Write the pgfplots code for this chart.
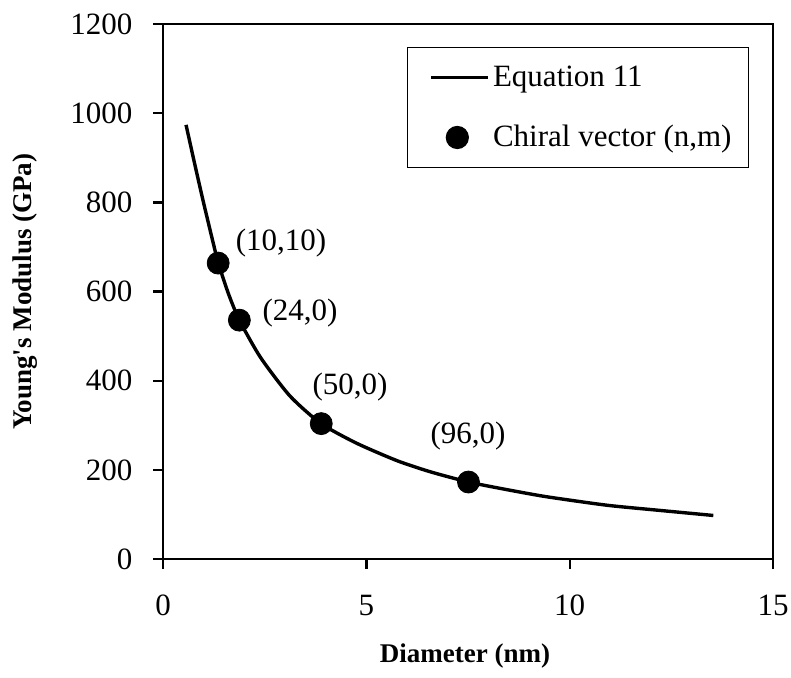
\documentclass[border=0pt]{standalone}
\usepackage{pgfplots}
\pgfplotsset{compat=1.18}
\usepackage{fontspec}
\setmainfont{Liberation Serif}

% Young's modulus of nanotubes against tube diameter
\pgfplotstableread{
d      E
0.566  974
0.78   886
0.99   802
1.237  708
1.36   664
1.606  596
1.877  536
2.40   452
3.12   366
3.885  304
4.76   260
5.75   221
6.57   196
7.51   173
8.45   156
9.43   140
10.91  121
12.14  110
13.53  98
}\equationdata

\pgfplotstableread{
d      E
1.356  664
1.877  536
3.89   304
7.51   173
}\chiraldata

\begin{document}
\begin{tikzpicture}
\begin{axis}[
  scale only axis,
  width=305pt, height=267.5pt,
  xmin=0, xmax=15, ymin=0, ymax=1200,
  xtick={0,5,10,15},
  xticklabels={0,5,10,15},
  ytick={0,200,400,600,800,1000,1200},
  yticklabels={0,200,400,600,800,1000,1200},
  tick pos=left,
  tick align=outside,
  major tick length=5pt,
  axis line style={line width=1.2pt},
  every tick/.style={black, line width=1.2pt},
  /pgf/number format/assume math mode=true,
  tick label style={font=\fontsize{15.5}{18}\selectfont},
  xticklabel style={yshift=-9.5pt},
  yticklabel style={xshift=-6.8pt},
  xlabel={\textbf{Diameter (nm)}},
  ylabel={\textbf{Young\textquotesingle s Modulus (GPa)}},
  label style={font=\fontsize{13.5}{16}\selectfont},
  xlabel style={at={(axis description cs:0.495,-0.181)}, anchor=center},
  ylabel style={at={(axis description cs:-0.226,0.5)}, anchor=center},
  clip=false,
  legend style={
    at={(axis description cs:0.9607,0.957)}, anchor=north east,
    draw=black, line width=0.6pt,
    inner xsep=7pt, inner ysep=8pt,
    row sep=16pt,
    font=\fontsize{15.5}{18}\selectfont,
    nodes={inner xsep=1.5pt, inner ysep=1pt},
    cells={anchor=west},
  },
]
\addplot[black, line width=1.7pt, smooth, tension=0.4,
  legend image code/.code={\draw[black, line width=1.7pt] (5pt,0pt) -- (33.5pt,0pt);}]
  table[x=d, y=E] {\equationdata};
\addlegendentry{Equation 11}

\addplot[only marks, mark=*, mark size=5.5pt, black,
  legend image code/.code={\fill[black] (18pt,0pt) circle (5.5pt); \path[draw=none, fill=none] (0pt,0pt) -- (33.5pt,0pt);}]
  table[x=d, y=E] {\chiraldata};
\addlegendentry{Chiral vector (n,m)}

\begin{scope}[every node/.style={font=\fontsize{15.5}{18}\selectfont, inner sep=0pt}]
  \node at (axis cs:2.90,709) {(10,10)};
  \node at (axis cs:3.37,552) {(24,0)};
  \node at (axis cs:4.60,386) {(50,0)};
  \node at (axis cs:7.50,276) {(96,0)};
\end{scope}

\coordinate (frameSW) at (axis cs:-4.008,-264.7);
\coordinate (frameNE) at (axis cs:15.44,1254);
\end{axis}
\pgfresetboundingbox
\path[use as bounding box] (frameSW) rectangle (frameNE);
\end{tikzpicture}
\end{document}
